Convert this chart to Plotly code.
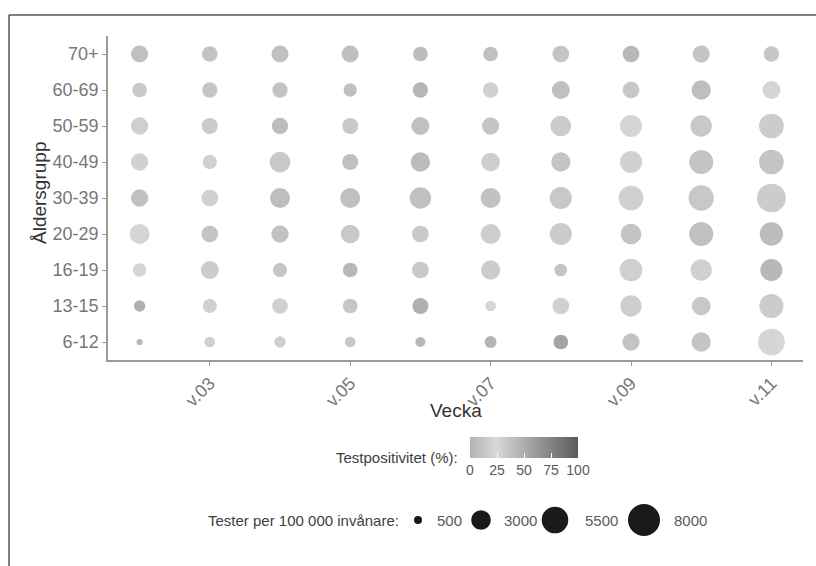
import plotly.graph_objects as go

# Weekly testing by age group: bubble area = tests per 100 000, colour = test positivity
weeks = [2, 3, 4, 5, 6, 7, 8, 9, 10, 11]
week_ticks = [3, 5, 7, 9, 11]
week_labels = ["v.03", "v.05", "v.07", "v.09", "v.11"]
age_groups = ["6-12", "13-15", "16-19", "20-29", "30-39", "40-49", "50-59", "60-69", "70+"]

tests = {
    "6-12":  [300, 900, 1000, 900, 800, 1120, 1690, 2340, 2910, 5570],
    "13-15": [1000, 1530, 1930, 1690, 2000, 890, 2180, 3540, 2730, 4500],
    "16-19": [1380, 2530, 1530, 1690, 2180, 2910, 1260, 4030, 3540, 3780],
    "20-29": [3120, 2180, 2340, 2730, 2180, 3120, 3780, 3350, 4500, 4240],
    "30-39": [2340, 2180, 3120, 3120, 3540, 3120, 3780, 4770, 5000, 6440],
    "40-49": [2340, 1600, 3350, 2000, 2910, 2730, 2910, 3780, 4500, 4770],
    "50-59": [2340, 2000, 2080, 2000, 2530, 2340, 3350, 3780, 3540, 4770],
    "60-69": [1690, 1830, 1830, 1380, 1830, 1830, 2530, 2180, 2910, 2530],
    "70+":   [2260, 1930, 2260, 2260, 1690, 1690, 2180, 2180, 2340, 1830],
}

positivity = {
    "6-12":  [46, 30, 31, 34.5, 44, 46, 56, 37, 37, 26],
    "13-15": [49, 29, 30, 36, 49, 27, 30, 31, 34.5, 32],
    "16-19": [27, 32, 37, 44, 34.5, 32, 37, 30, 30, 44],
    "20-29": [27, 37, 38, 34.5, 34.5, 31, 33, 37, 39, 41],
    "30-39": [39, 30, 40.5, 39, 39, 38, 34.5, 30, 34.5, 32],
    "40-49": [29, 30, 34.5, 39, 42, 31, 37, 29, 37, 37],
    "50-59": [30.5, 33, 41, 34.5, 39, 37, 33, 27, 34.5, 32],
    "60-69": [34.5, 36, 37, 39, 45, 30, 39, 34.5, 40.5, 27],
    "70+":   [39, 37, 39, 40, 41, 39, 37, 44, 37, 36],
}

size_keys = [500, 3000, 5500, 8000]
size_key_labels = ["500", "3000", "5500", "8000"]
colour_ticks = [0, 25, 50, 75, 100]

W, H = 816, 566
FONT = "Liberation Sans, Arial, sans-serif"
SIZEREF = 15.6  # marker area scale shared by plot and size key
GREYS = [[0.0, "#b4b4b4"], [0.25, "#d8d8d8"], [1.0, "#5a5a5a"]]

xs, ys, ss, cs = [], [], [], []
for i, age in enumerate(age_groups):
    for j, wk in enumerate(weeks):
        xs.append(wk)
        ys.append(i)
        ss.append(tests[age][j])
        cs.append(positivity[age][j])

fig = go.Figure()

fig.add_trace(go.Scatter(
    x=xs, y=ys, mode="markers",
    marker=dict(
        size=ss, sizemode="area", sizeref=SIZEREF,
        color=cs, cmin=0, cmax=100, colorscale=GREYS,
        line=dict(width=0), opacity=1,
        showscale=True,
        colorbar=dict(
            orientation="h",
            x=524 / W, xanchor="center",
            y=1 - 437 / H, yanchor="top",
            len=108, lenmode="pixels",
            thickness=21, thicknessmode="pixels",
            outlinewidth=0, xpad=0, ypad=0,
            tickvals=colour_ticks,
            ticks="inside", tickcolor="white", ticklen=5,
            tickfont=dict(family=FONT, size=14, color="#5a5a5a"),
        ),
    ),
    hoverinfo="skip", showlegend=False,
))

# size key drawn on a hidden pixel-space axis pair below the panel
KEY_TOP = 480
key_x = [418, 481, 555, 644]
label_x = [435, 502, 583, 672]
key_y = 520
fig.add_trace(go.Scatter(
    x=key_x, y=[key_y] * len(size_keys), xaxis="x2", yaxis="y2",
    mode="markers",
    marker=dict(size=size_keys, sizemode="area", sizeref=SIZEREF,
                color="#1a1a1a", opacity=1, line=dict(width=0)),
    hoverinfo="skip", showlegend=False,
))

annotations = []
for lx, lab in zip(label_x, size_key_labels):
    annotations.append(dict(
        x=lx / W, y=1 - key_y / H, xref="paper", yref="paper",
        text=lab, showarrow=False, xanchor="left", yanchor="middle",
        font=dict(family=FONT, size=15, color="#5a5a5a"),
    ))
annotations.append(dict(
    x=401 / W, y=1 - key_y / H, xref="paper", yref="paper",
    text="Tester per 100 000 invånare:", showarrow=False,
    xanchor="right", yanchor="middle",
    font=dict(family=FONT, size=15, color="#404040"),
))
annotations.append(dict(
    x=460 / W, y=1 - 457 / H, xref="paper", yref="paper",
    text="Testpositivitet (%):", showarrow=False,
    xanchor="right", yanchor="middle",
    font=dict(family=FONT, size=15, color="#404040"),
))
annotations.append(dict(
    x=456 / W, y=1 - 410 / H, xref="paper", yref="paper",
    text="Vecka", showarrow=False, xanchor="center", yanchor="middle",
    font=dict(family=FONT, size=19, color="#333333"),
))
annotations.append(dict(
    x=39 / W, y=1 - 193 / H, xref="paper", yref="paper",
    text="Åldersgrupp", showarrow=False, textangle=-90,
    xanchor="center", yanchor="middle",
    font=dict(family=FONT, size=19, color="#333333"),
))

axis_line = "#9a9a9a"
tick_grey = "#777777"
fig.update_layout(
    width=W, height=H,
    margin=dict(l=0, r=0, t=0, b=0),
    paper_bgcolor="white", plot_bgcolor="rgba(0,0,0,0)",
    font=dict(family=FONT),
    xaxis=dict(
        domain=[108 / W, 803 / W], range=[1.55, 11.45],
        tickvals=week_ticks, ticktext=week_labels, tickangle=-45,
        showline=True, linecolor=axis_line, linewidth=1.5,
        ticks="outside", ticklen=4, tickcolor=axis_line, tickwidth=1,
        showgrid=False, zeroline=False,
        tickfont=dict(family=FONT, size=18, color=tick_grey),
        anchor="y",
    ),
    yaxis=dict(
        domain=[1 - 360 / H, 1 - 36 / H], range=[-0.5, 8.5],
        tickvals=list(range(len(age_groups))), ticktext=age_groups,
        showline=True, linecolor=axis_line, linewidth=1.5,
        ticks="outside", ticklen=4, tickcolor=axis_line, tickwidth=1,
        showgrid=False, zeroline=False,
        tickfont=dict(family=FONT, size=18, color=tick_grey),
        anchor="x",
    ),
    xaxis2=dict(domain=[0, 1], range=[0, W], visible=False, anchor="y2"),
    yaxis2=dict(domain=[0, 1 - KEY_TOP / H], range=[H, KEY_TOP],
                visible=False, anchor="x2"),
    annotations=annotations,
    shapes=[
        dict(type="line", xref="paper", yref="paper",
             x0=9 / W, x1=1, y0=1 - 15 / H, y1=1 - 15 / H,
             line=dict(color="#555555", width=1.5)),
        dict(type="line", xref="paper", yref="paper",
             x0=9 / W, x1=9 / W, y0=1 - 15 / H, y1=0,
             line=dict(color="#555555", width=1.5)),
    ],
)

fig.write_html("out.html")
